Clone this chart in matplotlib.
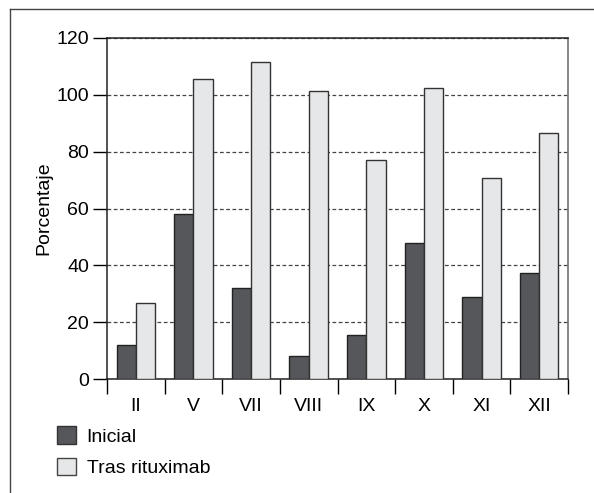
import numpy as np
import matplotlib
matplotlib.use('Agg')
import matplotlib.pyplot as plt
from matplotlib.patches import Patch
from matplotlib.lines import Line2D

categories = ['II', 'V', 'VII', 'VIII', 'IX', 'X', 'XI', 'XII']
inicial = [12, 58, 32, 8, 15.4, 47.7, 29, 37.3]
tras_rituximab = [26.8, 105.4, 111.7, 101.2, 77.1, 102.3, 70.8, 86.4]
yticks = [0, 20, 40, 60, 80, 100, 120]

plt.rcParams['font.family'] = ['Liberation Sans', 'DejaVu Sans']
plt.rcParams['font.size'] = 14

c_ini = '#55575a'
c_tras = '#e6e7e8'

fig = plt.figure(figsize=(5.94, 4.93), dpi=100)
ax = fig.add_axes([107 / 594, 1 - 379 / 493, (568 - 107) / 594, (379 - 38) / 493])

x = np.arange(len(categories))
w = 0.335
ax.bar(x - w / 2, inicial, w, color=c_ini, edgecolor='#222222', linewidth=1, zorder=3)
ax.bar(x + w / 2, tras_rituximab, w, color=c_tras, edgecolor='#333333', linewidth=1, zorder=3)

ax.set_xlim(-0.5, len(categories) - 0.5)
ax.set_ylim(0, 120)
ax.set_yticks(yticks)
ax.yaxis.grid(True, linestyle=(0, (3, 2)), color='#444444', linewidth=0.9, zorder=0)
ax.tick_params(axis='y', direction='out', length=10, width=1, pad=3)

ax.set_xticks(x)
ax.set_xticklabels(categories)
ax.set_xticks(np.arange(len(categories) + 1) - 0.5, minor=True)
ax.tick_params(axis='x', which='major', length=0, pad=14)
ax.tick_params(axis='x', which='minor', direction='out', length=11, width=1)

for s in ['left', 'bottom', 'top']:
    ax.spines[s].set_color('#222222')
    ax.spines[s].set_linewidth(1.1)
ax.spines['right'].set_color('#666666')
ax.spines['right'].set_linewidth(1.1)

ax.set_ylabel('Porcentaje', labelpad=3)

handles = [Patch(facecolor=c_ini, edgecolor='#333333', label='Inicial'),
           Patch(facecolor=c_tras, edgecolor='#444444', label='Tras rituximab')]
fig.legend(handles=handles, loc='upper left', bbox_to_anchor=(39 / 594, 1 - 409 / 493),
           frameon=False, handlelength=1.0, handleheight=1.0, labelspacing=0.6,
           handletextpad=0.55, fontsize=14)

# outer frame (top and left only)
fig.add_artist(Line2D([10 / 594, 1], [1 - 9 / 493, 1 - 9 / 493], color='#444444', linewidth=1))
fig.add_artist(Line2D([10 / 594, 10 / 594], [0, 1 - 9 / 493], color='#444444', linewidth=1))

fig.savefig('out.png', dpi=100)
